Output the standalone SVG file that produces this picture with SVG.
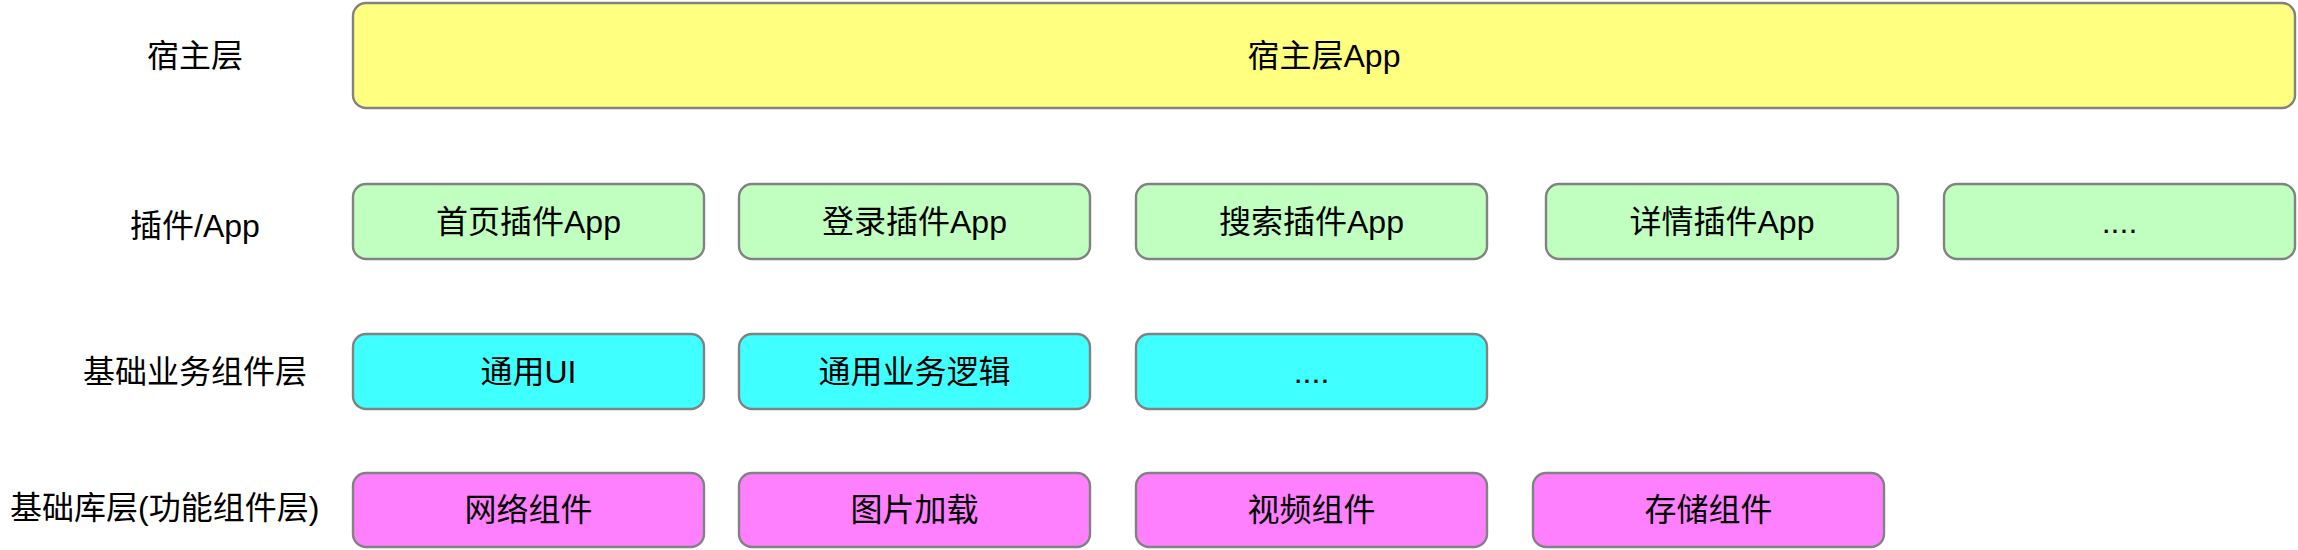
<svg xmlns="http://www.w3.org/2000/svg" width="2298" height="550" viewBox="0 0 2298 550">
  <style>
    text { font-family: "Liberation Sans", "Noto Sans CJK SC", sans-serif; font-size: 32px; fill: #000000; dominant-baseline: central; }
    .box { stroke: #828282; stroke-width: 2.4; }
    .host { fill: #FFFF80; }
    .plugin { fill: #C0FFC0; }
    .biz { fill: #40FFFF; }
    .base { fill: #FF80FF; }
    .lbl { text-anchor: middle; }
    .c { text-anchor: middle; }
  </style>
  <rect width="2298" height="550" fill="#FFFFFF"/>

  <g id="labels">
    <text class="lbl" x="195" y="56">宿主层</text>
    <text class="lbl" x="195" y="226">插件/App</text>
    <text class="lbl" x="195" y="372">基础业务组件层</text>
    <text x="10" y="508">基础库层(功能组件层)</text>
  </g>

  <g id="host-app">
    <rect class="box host" x="353" y="3" width="1942" height="105" rx="13" ry="13"/>
    <text class="c" x="1324" y="56">宿主层App</text>
  </g>

  <g id="plugin-home">
    <rect class="box plugin" x="353" y="184" width="351" height="75" rx="13" ry="13"/>
    <text class="c" x="528.5" y="222">首页插件App</text>
  </g>
  <g id="plugin-login">
    <rect class="box plugin" x="739" y="184" width="351" height="75" rx="13" ry="13"/>
    <text class="c" x="914.5" y="222">登录插件App</text>
  </g>
  <g id="plugin-search">
    <rect class="box plugin" x="1136" y="184" width="351" height="75" rx="13" ry="13"/>
    <text class="c" x="1311.5" y="222">搜索插件App</text>
  </g>
  <g id="plugin-detail">
    <rect class="box plugin" x="1546" y="184" width="352" height="75" rx="13" ry="13"/>
    <text class="c" x="1722" y="222">详情插件App</text>
  </g>
  <g id="plugin-more">
    <rect class="box plugin" x="1944" y="184" width="351" height="75" rx="13" ry="13"/>
    <text class="c" x="2119.5" y="222">....</text>
  </g>

  <g id="biz-ui">
    <rect class="box biz" x="353" y="334" width="351" height="75" rx="13" ry="13"/>
    <text class="c" x="528.5" y="372">通用UI</text>
  </g>
  <g id="biz-logic">
    <rect class="box biz" x="739" y="334" width="351" height="75" rx="13" ry="13"/>
    <text class="c" x="914.5" y="372">通用业务逻辑</text>
  </g>
  <g id="biz-more">
    <rect class="box biz" x="1136" y="334" width="351" height="75" rx="13" ry="13"/>
    <text class="c" x="1311.5" y="372">....</text>
  </g>

  <g id="base-network">
    <rect class="box base" x="353" y="473" width="351" height="74" rx="13" ry="13"/>
    <text class="c" x="528.5" y="510">网络组件</text>
  </g>
  <g id="base-image">
    <rect class="box base" x="739" y="473" width="351" height="74" rx="13" ry="13"/>
    <text class="c" x="914.5" y="510">图片加载</text>
  </g>
  <g id="base-video">
    <rect class="box base" x="1136" y="473" width="351" height="74" rx="13" ry="13"/>
    <text class="c" x="1311.5" y="510">视频组件</text>
  </g>
  <g id="base-storage">
    <rect class="box base" x="1533" y="473" width="351" height="74" rx="13" ry="13"/>
    <text class="c" x="1708.5" y="510">存储组件</text>
  </g>

  <g id="connectors"></g>
</svg>
